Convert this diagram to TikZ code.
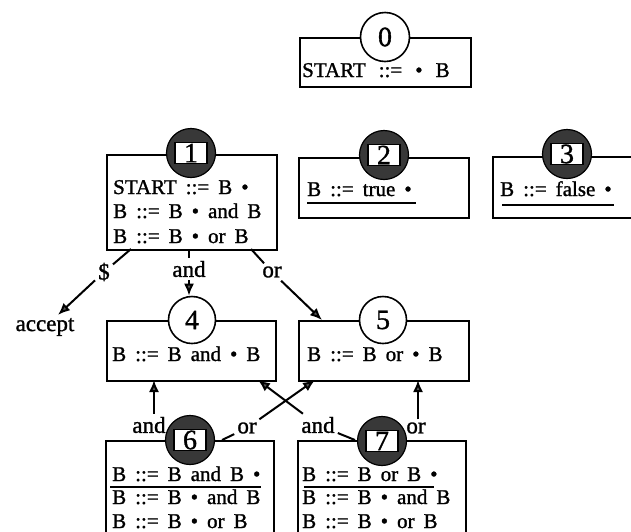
\documentclass[tikz,border=0pt]{standalone}
\usepackage{fontspec}
\setmainfont{Liberation Serif}[FakeBold=1.2]
\usetikzlibrary{arrows.meta,calc}
\newcommand\txtfont{\fontsize{21}{24}\selectfont\spaceskip=9pt\relax}
\newcommand\wtxtfont{\fontsize{21}{24}\selectfont\spaceskip=13pt\relax}
\newcommand\numfont{\fontsize{28}{30}\selectfont}
\newcommand\lblfont{\fontsize{23}{25}\selectfont}
\begin{document}
\begin{tikzpicture}[x=1pt,y=-1pt,
  box/.style={draw, line width=1.6pt, fill=white, inner sep=0pt, anchor=north west},
  txt/.style={font=\txtfont, anchor=base west, inner sep=0pt},
  opencirc/.style={circle, draw, line width=1.6pt, fill=white, minimum size=47pt, inner sep=0pt, font=\numfont},
  darkcirc/.style={circle, draw, line width=1.2pt, fill=black!78, minimum size=49pt, inner sep=0pt},
  numsq/.style={draw, line width=1.2pt, fill=white, minimum width=32pt, minimum height=21pt, inner sep=0pt, font=\numfont},
  lbl/.style={font=\lblfont, inner sep=3pt},
  ln/.style={draw, line width=2pt},
  arr/.style={draw, line width=2pt, -{Latex[length=12pt,width=10pt,fill=black!65]}},
  uline/.style={draw, line width=1.2pt}]
\useasboundingbox (0,0) rectangle (631,531);
\clip (0,0) rectangle (631,531);

% boxes
\node[box, minimum width=171pt, minimum height=49pt] (b0) at (299,37) {};
\node[box, minimum width=170pt, minimum height=95pt] (b1) at (106,154) {};
\node[box, minimum width=170pt, minimum height=60pt] (b2) at (298,157) {};
\node[box, minimum width=150pt, minimum height=61pt] (b3) at (492,156) {};
\node[box, minimum width=169pt, minimum height=60pt] (b4) at (106,320) {};
\node[box, minimum width=170pt, minimum height=60pt] (b5) at (298,320) {};
\node[box, minimum width=168pt, minimum height=110pt] (b6) at (105,440) {};
\node[box, minimum width=168pt, minimum height=110pt] (b7) at (297,440) {};

% circles
\node[opencirc, minimum size=49pt] (c0) at (385,37) {0};
\node[darkcirc] (c1) at (191,153) {};
\node[numsq] (n1) at (c1.center) {1};
\node[darkcirc] (c2) at (384,155) {};
\node[numsq] (n2) at (c2.center) {2};
\node[darkcirc] (c3) at (567,154) {};
\node[numsq] (n3) at (c3.center) {3};
\node[opencirc] (c4) at (192,320) {4};
\node[opencirc] (c5) at (383,320) {5};
\node[darkcirc] (c6) at (190,440) {};
\node[numsq] (n6) at (c6.center) {6};
\node[darkcirc] (c7) at (382,441) {};
\node[numsq] (n7) at (c7.center) {7};

% texts
\node[txt, font=\wtxtfont] (t0) at (302,77) {START ::= • B};
\node[txt] (t1a) at (113,194) {START ::= B •};
\node[txt] (t1b) at (113,218) {B ::= B • and B};
\node[txt] (t1c) at (113,243) {B ::= B • or B};
\node[txt] (t2) at (307,196) {B ::= true •};
\node[txt] (t3) at (500,196) {B ::= false •};
\node[txt] (t4) at (112,361) {B ::= B and • B};
\node[txt] (t5) at (307,361) {B ::= B or • B};
\node[txt] (t6a) at (112,481) {B ::= B and B •};
\node[txt] (t6b) at (112,504) {B ::= B • and B};
\node[txt] (t6c) at (112,528) {B ::= B • or B};
\node[txt] (t7a) at (302,481) {B ::= B or B •};
\node[txt] (t7b) at (302,504) {B ::= B • and B};
\node[txt] (t7c) at (302,528) {B ::= B • or B};

% underlines
\draw[uline] ($(t2.base west)+(0,7)$) -- ($(t2.base east)+(4,7)$);
\draw[uline] ($(t3.base west)+(2,9)$) -- ($(t3.base east)+(2,9)$);
\draw[uline] ($(t6a.base west)+(-2,6)$) -- ($(t6a.base east)+(0,6)$);
\draw[uline] ($(t7a.base west)+(2,6)$) -- ($(t7a.base east)+(-4,6)$);

% labels
\node[lbl] (l1s) at (104,272) {\$};
\node[lbl] (l1a) at (189,269) {and};
\node[lbl] (l1o) at (272,272) {or};
\node[lbl] (acc) at (45,327) {accept};
\node[lbl] (l6a) at (149,425) {and};
\node[lbl] (l6o) at (247,428) {or};
\node[lbl] (l7a) at (318,425) {and};
\node[lbl] (l7o) at (416,428) {or};

% connector end points
\coordinate (e1s) at (131,249);
\coordinate (e1o) at (251,249);
\coordinate (t5o) at (322,320);
\coordinate (e6o) at (222,440);
\coordinate (e7a) at (355,440);
\coordinate (t5b) at (315,380);
\coordinate (t4b) at (258,380);
\coordinate (t4v) at (154,380);
\coordinate (t5v) at (418,380);

% connectors
\draw[ln] (e1s) -- (l1s);
\draw[arr] (l1s) -- (acc);
\draw[ln] (b1.south -| l1a) -- (l1a);
\draw[arr] (l1a) -- (c4.north -| l1a);
\draw[ln] (e1o) -- (l1o);
\draw[arr] (l1o) -- (t5o);
\draw[ln] (e6o) -- (l6o);
\draw[arr] (l6o) -- (t5b);
\draw[ln] (e7a) -- (l7a);
\draw[arr] (l7a) -- (t4b);
\draw[arr] (l6a.north -| t4v) -- (t4v);
\draw[arr] (l7o.north -| t5v) -- (t5v);
\end{tikzpicture}
\end{document}
